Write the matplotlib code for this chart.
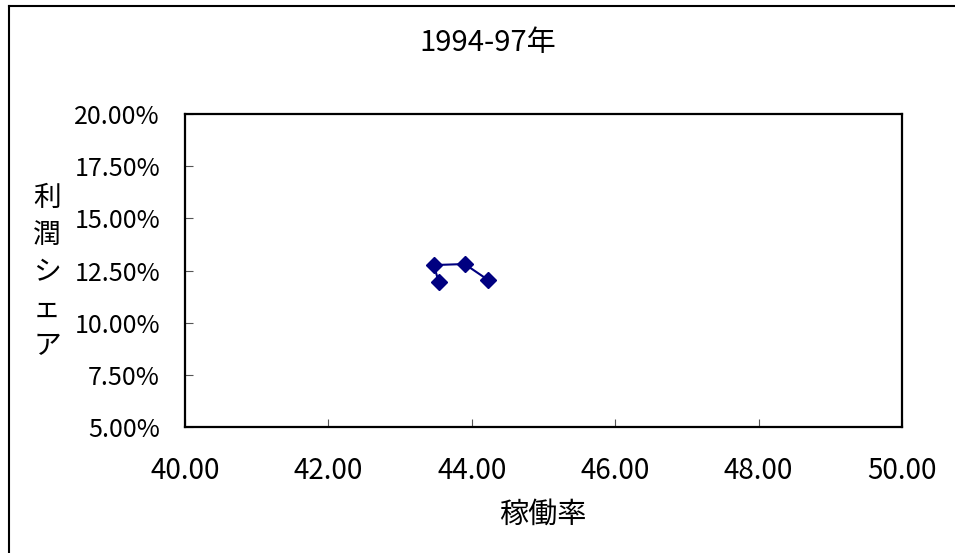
import numpy as np
import matplotlib
matplotlib.use("Agg")
import matplotlib.pyplot as plt
from matplotlib.lines import Line2D
from matplotlib.ticker import FuncFormatter, MultipleLocator

plt.rcParams['font.family'] = ['Noto Sans CJK JP', 'DejaVu Sans']

# operating rate vs profit share, 1994-97
utilization = [43.54, 43.47, 43.90, 44.23]
profit_share = [0.1193, 0.1276, 0.1281, 0.1204]

title = "1994-97年"
x_label = "稼働率"
y_label = "利\n潤\nシ\nェ\nア"

W, H = 955, 553
fig = plt.figure(figsize=(W / 100, H / 100), dpi=100)
ax = fig.add_axes([185 / W, 1 - 427 / H, (902 - 185) / W, (427 - 114) / H])

navy = "#000080"
ax.plot(utilization, profit_share, color=navy, lw=1.5,
        marker="D", markersize=8, markerfacecolor=navy, markeredgecolor=navy)

ax.set_xlim(40, 50)
ax.set_ylim(0.05, 0.20)
ax.xaxis.set_major_locator(MultipleLocator(2))
ax.yaxis.set_major_locator(MultipleLocator(0.025))
ax.xaxis.set_major_formatter(FuncFormatter(lambda v, p: f"{v:.2f}"))
ax.yaxis.set_major_formatter(FuncFormatter(lambda v, p: f"{v * 100:.2f}%"))

ax.tick_params(direction="in", length=6, width=0.8, color="#555555",
               labelcolor="black")
ax.tick_params(axis="x", pad=21, labelsize=20)
ax.tick_params(axis="y", pad=18, labelsize=18)
for s in ax.spines.values():
    s.set_linewidth(1.6)
    s.set_color("black")

fig.text(488 / W, 1 - 43 / H, title, ha="center", va="center", fontsize=21)
fig.text(543 / W, 1 - 515 / H, x_label, ha="center", va="center", fontsize=21)
fig.text(47 / W, 1 - 272 / H, y_label, ha="center", va="center", fontsize=20,
         linespacing=1.3)

# outer chart border (runs off the right and bottom edges)
fig.add_artist(Line2D([9 / W, 9 / W], [1 - 6 / H, -0.1], color="black", lw=1.5,
                      transform=fig.transFigure))
fig.add_artist(Line2D([9 / W, 1.1], [1 - 6 / H, 1 - 6 / H], color="black", lw=1.5,
                      transform=fig.transFigure))

fig.savefig("out.png", dpi=100, facecolor="white")
